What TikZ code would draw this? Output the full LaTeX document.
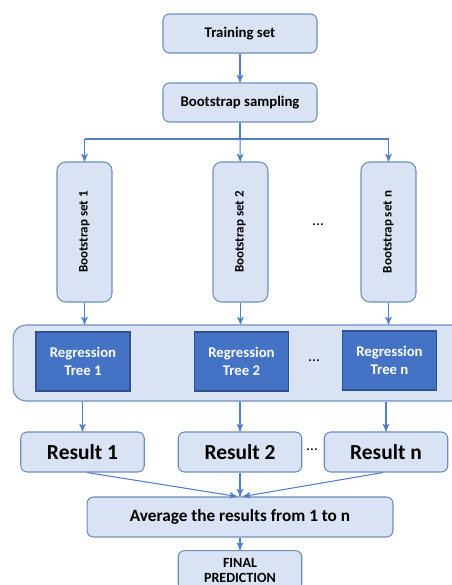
\documentclass[tikz,border=0pt]{standalone}
\usepackage{fontspec}
\setmainfont{Carlito}
\usepackage{graphicx}
\usetikzlibrary{arrows}
\definecolor{paleblue}{RGB}{218, 227, 243}
\definecolor{edgeblue}{RGB}{108, 142, 191}
\definecolor{treeblue}{RGB}{68, 114, 196}
\definecolor{treeedge}{RGB}{47, 82, 143}
\definecolor{linkblue}{RGB}{80, 125, 205}

\begin{document}
\begin{tikzpicture}
  [
    x=0.02cm, y=-0.02cm,
    box/.style={draw=edgeblue, fill=paleblue, line width=0.6pt, rounded corners=0.13cm,
      inner sep=0pt, font=\bfseries, text=black},
    wide/.style={box, minimum width=3.08cm, minimum height=0.78cm, font=\bfseries\fontsize{8.4}{10}\selectfont},
    bset/.style={box, minimum width=1.1cm, minimum height=2.8cm, rounded corners=0.17cm,
      font=\bfseries\fontsize{7.4}{9}\selectfont},
    tree/.style={draw=treeedge, fill=treeblue, line width=0.6pt, inner sep=0pt, text=white,
      minimum width=1.88cm, minimum height=1.18cm, align=center,
      font=\bfseries\fontsize{8.4}{10.5}\selectfont},
    result/.style={box, minimum width=2.47cm, minimum height=0.8cm, font=\bfseries\fontsize{12.2}{14}\selectfont},
    dots/.style={font=\fontsize{9}{10}\selectfont},
    link/.style={->, >=stealth', linkblue, line width=0.6pt},
    wire/.style={linkblue, line width=0.6pt}
  ]
  \clip (0,0) rectangle (452,585);

  \node[wide] (train) at (240, 33.5) {Training set};
  \node[wide] (sampling) at (240, 102.5) {Bootstrap sampling};
  \draw[link] (train) -- (sampling);

  \node[bset] (set1) at (84.5, 232) {\rotatebox{90}{Bootstrap set 1}};
  \node[bset] (set2) at (240.5, 232) {\rotatebox{90}{Bootstrap set 2}};
  \node[bset] (setn) at (388.5, 232) {\rotatebox{90}{Bootstrap set n}};
  \node[dots] (setdots) at (318, 225) {\dots};

  % split after sampling
  \coordinate (split) at (240, 139);
  \draw[wire] (sampling) -- (split);
  \draw[link] (set1 |- split) -- (set1);
  \draw[link] (sampling) -- (set2);
  \draw[link] (setn |- split) -- (setn);
  \draw[wire] (set1 |- split) -- (setn |- split);

  % forest of trees
  \node[box, minimum width=9.14cm, minimum height=1.52cm, rounded corners=0.26cm] (forest) at (241.5, 363) {};
  \node[tree] (tree1) at (83, 361.5) {Regression\\Tree 1};
  \node[tree] (tree2) at (241.5, 361.5) {Regression\\Tree 2};
  \node[tree] (treen) at (389.5, 360.5) {Regression\\Tree n};
  \node[dots] (treedots) at (314, 361) {\dots};

  \draw[link] (set1) -- (set1 |- forest.north);
  \draw[link] (set2) -- (set2 |- forest.north);
  \draw[link] (setn) -- (setn |- forest.north);

  \node[result] (res1) at (82.5, 452) {Result 1};
  \node[result] (res2) at (240, 452) {Result 2};
  \node[result] (resn) at (386, 452) {Result n};
  \node[dots] (resdots) at (312, 450) {\dots};

  \draw[link] (forest.south -| res1) -- (res1);
  \draw[link] (forest.south -| res2) -- (res2);
  \draw[link] (forest.south -| resn) -- (resn);

  \node[wide, minimum width=6.12cm, minimum height=0.8cm, font=\bfseries\fontsize{9.8}{12}\selectfont] (avg) at (240, 517) {Average the results from 1 to n};
  \draw[link] ([xshift=0.09cm]res1.south) -- ([xshift=-0.06cm]avg.north);
  \draw[link] (res2) -- (avg);
  \draw[link] ([xshift=-0.06cm]resn.south) -- ([xshift=0.06cm]avg.north);

  \node[box, minimum width=2.47cm, minimum height=0.8cm, align=center, anchor=north,
    font=\bfseries\fontsize{8}{8.6}\selectfont] (final) at (240, 550) {FINAL\\PREDICTION};
  \draw[link] (avg) -- (final);

\end{tikzpicture}
\end{document}
